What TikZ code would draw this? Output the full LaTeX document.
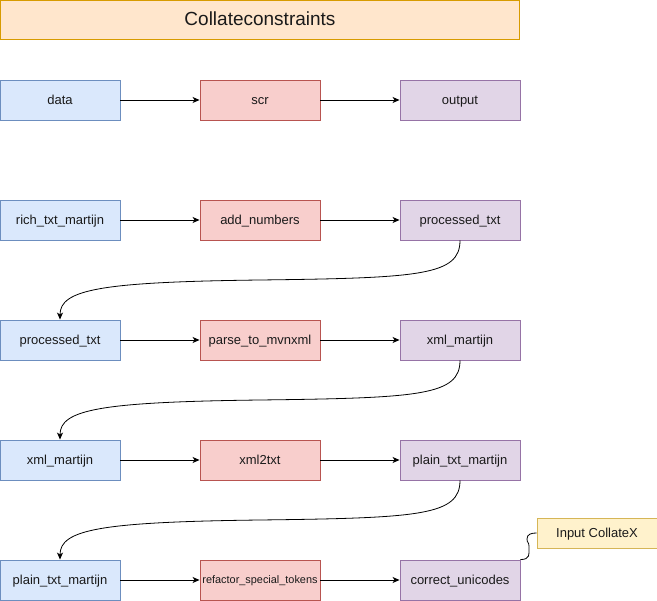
\documentclass[tikz,border=0pt]{standalone}
\usepackage{fontspec}
\setmainfont{Liberation Sans}
\usetikzlibrary{arrows.meta}
\definecolor{bluef}{HTML}{DAE8FC}\definecolor{blued}{HTML}{6C8EBF}
\definecolor{redf}{HTML}{F8CECC}\definecolor{redd}{HTML}{B85450}
\definecolor{purf}{HTML}{E1D5E7}\definecolor{purd}{HTML}{9673A6}
\definecolor{orgf}{HTML}{FFE6CC}\definecolor{orgd}{HTML}{D79B00}
\definecolor{yelf}{HTML}{FFF2CC}\definecolor{yeld}{HTML}{D6B656}
\definecolor{txt}{HTML}{1A1A1A}
\tikzset{
  box/.style={draw, line width=0.9pt, minimum width=120pt, minimum height=40pt, inner sep=0pt, text height=10pt, text depth=1pt, font=\fontsize{13}{15}\selectfont, text=txt},
  bluebox/.style={box, fill=bluef, draw=blued},
  redbox/.style={box, fill=redf, draw=redd},
  purbox/.style={box, fill=purf, draw=purd},
  conn/.style={line width=0.8pt, -{Stealth[length=7pt,width=6pt,inset=2pt]}},
}
\begin{document}
\begin{tikzpicture}[x=1pt,y=-1pt]
\useasboundingbox (0,0) rectangle (657,601);
\node[box, fill=orgf, draw=orgd, minimum width=519pt, minimum height=39pt, text height=14pt, text depth=2pt, font=\fontsize{19}{22}\selectfont] (title) at (260,20) {Collateconstraints};
% row 1
\node[bluebox] (data) at (60,100) {data};
\node[redbox] (scr) at (260,100) {scr};
\node[purbox] (output) at (460,100) {output};
% row 2
\node[bluebox] (rich) at (60,220) {rich\_txt\_martijn};
\node[redbox] (addn) at (260,220) {add\_numbers};
\node[purbox] (proc1) at (460,220) {processed\_txt};
% row 3
\node[bluebox] (proc2) at (60,340) {processed\_txt};
\node[redbox] (parse) at (260,340) {parse\_to\_mvnxml};
\node[purbox] (xml1) at (460,340) {xml\_martijn};
% row 4
\node[bluebox] (xml2) at (60,460) {xml\_martijn};
\node[redbox] (x2t) at (260,460) {xml2txt};
\node[purbox] (plain1) at (460,460) {plain\_txt\_martijn};
% row 5
\node[bluebox] (plain2) at (60,580) {plain\_txt\_martijn};
\node[redbox, font=\fontsize{10.9}{12}\selectfont, text height=8pt, text depth=0.6pt] (refac) at (260,580) {refactor\_special\_tokens};
\node[purbox] (corr) at (460,580) {correct\_unicodes};
\node[box, fill=yelf, draw=yeld, minimum height=30pt, text height=9.6pt, text depth=1pt] (input) at (597,533) {Input CollateX};
% straight connectors
\draw[conn] (data) -- (scr);
\draw[conn] (scr) -- (output);
\draw[conn] (rich) -- (addn);
\draw[conn] (addn) -- (proc1);
\draw[conn] (proc2) -- (parse);
\draw[conn] (parse) -- (xml1);
\draw[conn] (xml2) -- (x2t);
\draw[conn] (x2t) -- (plain1);
\draw[conn] (plain2) -- (refac);
\draw[conn] (refac) -- (corr);
% curved connectors
\draw[conn] (proc1.south) .. controls +(0,35) and +(160,-2) .. (260,280) .. controls +(-160,2) and +(0,-30) .. (proc2.north);
\draw[conn] (xml1.south) .. controls +(0,35) and +(160,-2) .. (260,400) .. controls +(-160,2) and +(0,-30) .. (xml2.north);
\draw[conn] (plain1.south) .. controls +(0,35) and +(160,-2) .. (260,520) .. controls +(-160,2) and +(0,-30) .. (plain2.north);
\draw[line width=0.8pt] (corr.north east) .. controls +(10,0) and +(0,6) .. (529,548) .. controls +(0,-8) and +(0,5) .. (527,539) .. controls +(0,-5) and +(-5,0) .. (input.west);
\end{tikzpicture}
\end{document}
